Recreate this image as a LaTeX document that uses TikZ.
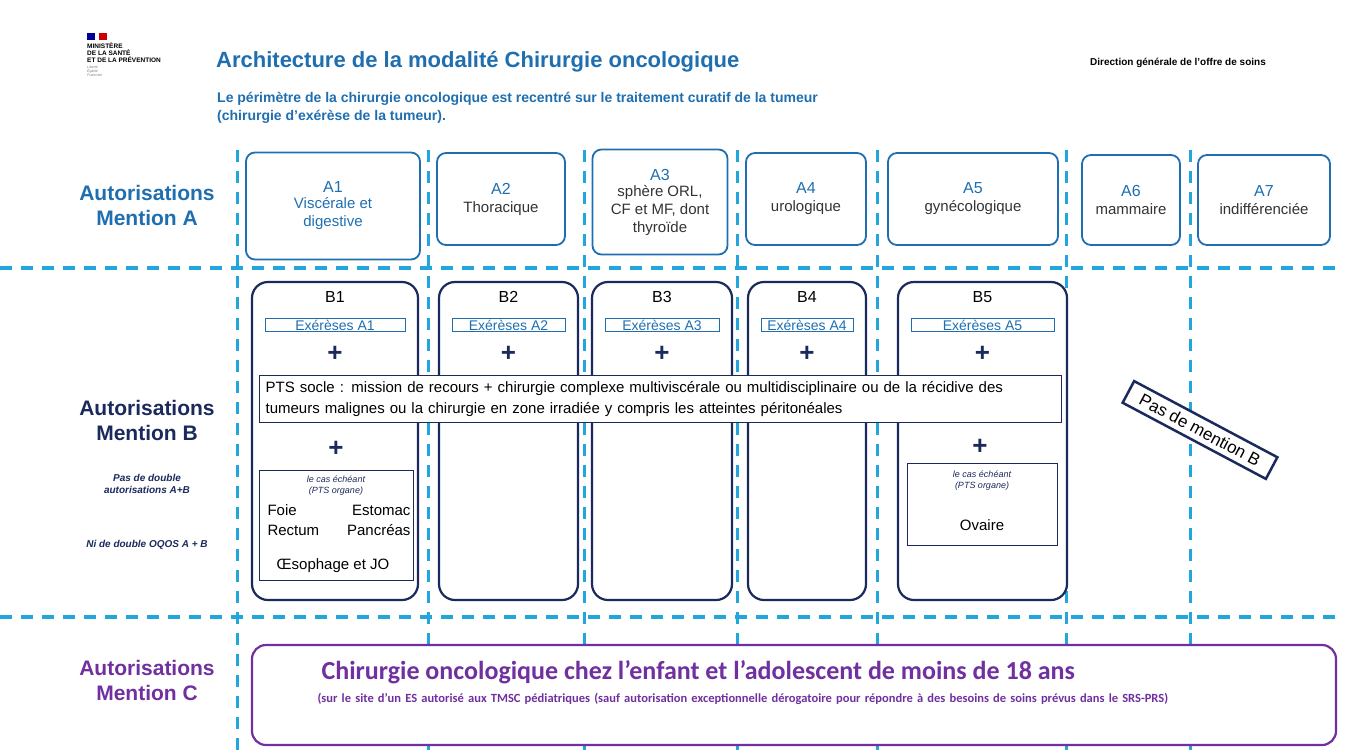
\documentclass[tikz,border=0pt]{standalone}
\usepackage{fontspec}
\setmainfont{Liberation Sans}
\newfontfamily\carl{Carlito}
\definecolor{blu}{HTML}{1F6FB0}
\definecolor{navy}{HTML}{1B2A5C}
\definecolor{lbl}{HTML}{22A6DD}
\definecolor{purp}{HTML}{7030A0}
\begin{document}
\begin{tikzpicture}[x=1pt,y=-1pt,
 dl/.style={lbl,line width=3.5pt,dash pattern=on 12pt off 9pt},
 dv/.style={lbl,line width=3pt,dash pattern=on 12pt off 9pt},
 abox/.style={draw=blu,line width=1.8pt,rounded corners=9pt,fill=white},
 bbox/.style={draw=navy,line width=2.2pt,rounded corners=16pt},
 ebox/.style={draw=blu,line width=0.8pt},
 obox/.style={draw=navy,line width=0.9pt},
 atx/.style={text=blu,font=\fontsize{16}{18}\selectfont,align=center},
 bt/.style={text=black,font=\fontsize{16}{18}\selectfont},
 plus/.style={text=navy,font=\bfseries\fontsize{26}{26}\selectfont},
 lab/.style={font=\bfseries\fontsize{21}{25}\selectfont,align=center}]
\useasboundingbox (0,0) rectangle (1346,753);
\fill[white] (0,0) rectangle (1346,753);
% logo
\fill[blue!60!black] (87,33) rectangle (95,40); \fill[red!80!black] (99,33) rectangle (107,40);
\node[anchor=north west,inner sep=0,align=left,font=\bfseries\fontsize{6.5}{7}\selectfont] (logo) at (87,43) {MINISTÈRE\\DE LA SANTÉ\\ET DE LA PRÉVENTION};
\node[anchor=north west,inner sep=0,align=left,text=gray,font=\itshape\fontsize{3.5}{4}\selectfont] (dev) at (87,66) {Liberté\\Égalité\\Fraternité};
\node[anchor=west,inner sep=0,text=blu,font=\bfseries\fontsize{22}{24}\selectfont] (title) at (216,62) {Architecture de la modalité Chirurgie oncologique};
\node[anchor=west,inner sep=0,font=\bfseries\fontsize{10}{12}\selectfont] (dgos) at (1090,63) {Direction générale de l’offre de soins};
\node[anchor=north west,inner sep=0,text=blu,align=left,font=\bfseries\fontsize{14}{18}\selectfont] (sub) at (217,92) {Le périmètre de la chirurgie oncologique est recentré sur le traitement curatif de la tumeur\\(chirurgie d’exérèse de la tumeur).};
% grid
\foreach \x in {237,428,584,737,877,1066,1190} \draw[dv] (\x,150) -- (\x,750);
\draw[dl] (0,268) -- (1340,268);
\draw[dl] (0,617) -- (1340,617);
% left labels
\node[lab,text=blu] (la) at (147,205) {Autorisations\\Mention A};
\node[lab,text=navy] (lbm) at (147,420) {Autorisations\\Mention B};
\node[align=center,font=\bfseries\itshape\fontsize{10}{12}\selectfont,text=navy] (lb2) at (147,484) {Pas de double\\autorisations A+B};
\node[font=\bfseries\itshape\fontsize{10}{12}\selectfont,text=navy] (lb3) at (147,545) {Ni de double OQOS A + B};
\node[lab,text=purp] (lc) at (147,680) {Autorisations\\Mention C};
% A boxes
\node[abox,minimum width=174pt,minimum height=107pt,atx] (A1) at (333,206) {A1\\[-2pt]\fontsize{15}{17}\selectfont Viscérale et\\\fontsize{15}{17}\selectfont digestive};
\node[abox,minimum width=128pt,minimum height=92pt,atx] (A2) at (501,199) {A2\\\fontsize{15}{17}\selectfont\color{black!80}Thoracique};
\node[abox,minimum width=135pt,minimum height=105pt,atx] (A3) at (660,202) {A3\\[-2pt]\fontsize{15}{17}\selectfont\color{black!80}sphère ORL,\\\fontsize{15}{17}\selectfont\color{black!80}CF et MF, dont\\\fontsize{15}{17}\selectfont\color{black!80}thyroïde};
\node[abox,minimum width=120pt,minimum height=92pt,atx] (A4) at (806,199) {A4\\\fontsize{15}{17}\selectfont\color{black!80}urologique};
\node[abox,minimum width=170pt,minimum height=92pt,atx] (A5) at (973,199) {A5\\\fontsize{15}{17}\selectfont\color{black!80}gynécologique};
\node[abox,minimum width=98pt,minimum height=90pt,atx] (A6) at (1131,200) {A6\\\fontsize{15}{17}\selectfont\color{black!80}mammaire};
\node[abox,minimum width=132pt,minimum height=90pt,atx] (A7) at (1264,200) {A7\\\fontsize{15}{17}\selectfont\color{black!80}indifférenciée};
% B boxes
\foreach \n/\l/\r/\e in {1/252/418/Exérèses A1,2/439/578/Exérèses A2,3/592/732/Exérèses A3,4/748/866/Exérèses A4,5/898/1067/Exérèses A5}{
  \draw[bbox,fill=white] (\l,282) rectangle (\r,600);
  \node[bt] (B\n) at ({(\l+\r)/2},297) {B\n};
  \node[ebox,text=blu,font=\fontsize{14}{16}\selectfont,inner ysep=1.5pt,minimum width={(\r-\l)-26}] (E\n) at ({(\l+\r)/2},325) {\e};
  \node[plus] (P\n) at ({(\l+\r)/2},354) {+};
}
\node[draw=navy,line width=1.2pt,fill=white,anchor=north west,text width=790pt,align=left,inner sep=6pt,font=\fontsize{15}{21}\selectfont] (pts) at (259,375) {PTS socle : mission de recours + chirurgie complexe multiviscérale ou multidisciplinaire ou de la récidive des tumeurs malignes ou la chirurgie en zone irradiée y compris les atteintes péritonéales};
\node[plus] (Q1) at (336,449) {+};
\node[plus] (Q5) at (980,447) {+};
\draw[obox] (259,470) rectangle (413,580);
\node[align=center,font=\itshape\fontsize{9}{11}\selectfont,text=navy] (c1) at (336,486) {le cas échéant\\(PTS organe)};
\node[anchor=west,font=\fontsize{15}{20}\selectfont,align=left] (o1) at (264,520) {Foie\\Rectum};
\node[anchor=east,font=\fontsize{15}{20}\selectfont,align=right] (o2) at (414,520) {Estomac\\Pancréas};
\node[font=\fontsize{15}{18}\selectfont] (o3) at (333,566) {Œsophage et JO};
\draw[obox] (907,463) rectangle (1057,545);
\node[align=center,font=\itshape\fontsize{9}{11}\selectfont,text=navy] (c5) at (982,481) {le cas échéant\\(PTS organe)};
\node[font=\fontsize{15}{18}\selectfont] (ov) at (982,525) {Ovaire};
% Pas de mention B
\node[draw=navy,line width=2.5pt,fill=white,rotate=-28,font=\fontsize{17}{20}\selectfont,inner xsep=14pt,inner ysep=6pt] (pmb) at (1200,430) {Pas de mention B};
% C
\node[draw=purp,fill=white,line width=2.2pt,rounded corners=14pt,minimum width=1084pt,minimum height=100pt] (C) at (794,695) {};
\node[anchor=west,text=purp,font=\carl\bfseries\fontsize{26}{28}\selectfont] (ct) at (318,672) {Chirurgie oncologique chez l’enfant et l’adolescent de moins de 18 ans};
\node[anchor=north west,text=purp,align=left,text width=1000pt,font=\carl\bfseries\fontsize{12.5}{18}\selectfont] (cs) at (314,690) {(sur le site d’un ES autorisé aux TMSC pédiatriques (sauf autorisation exceptionnelle dérogatoire pour répondre à des besoins de soins prévus dans le SRS-PRS)};
\end{tikzpicture}
\end{document}
